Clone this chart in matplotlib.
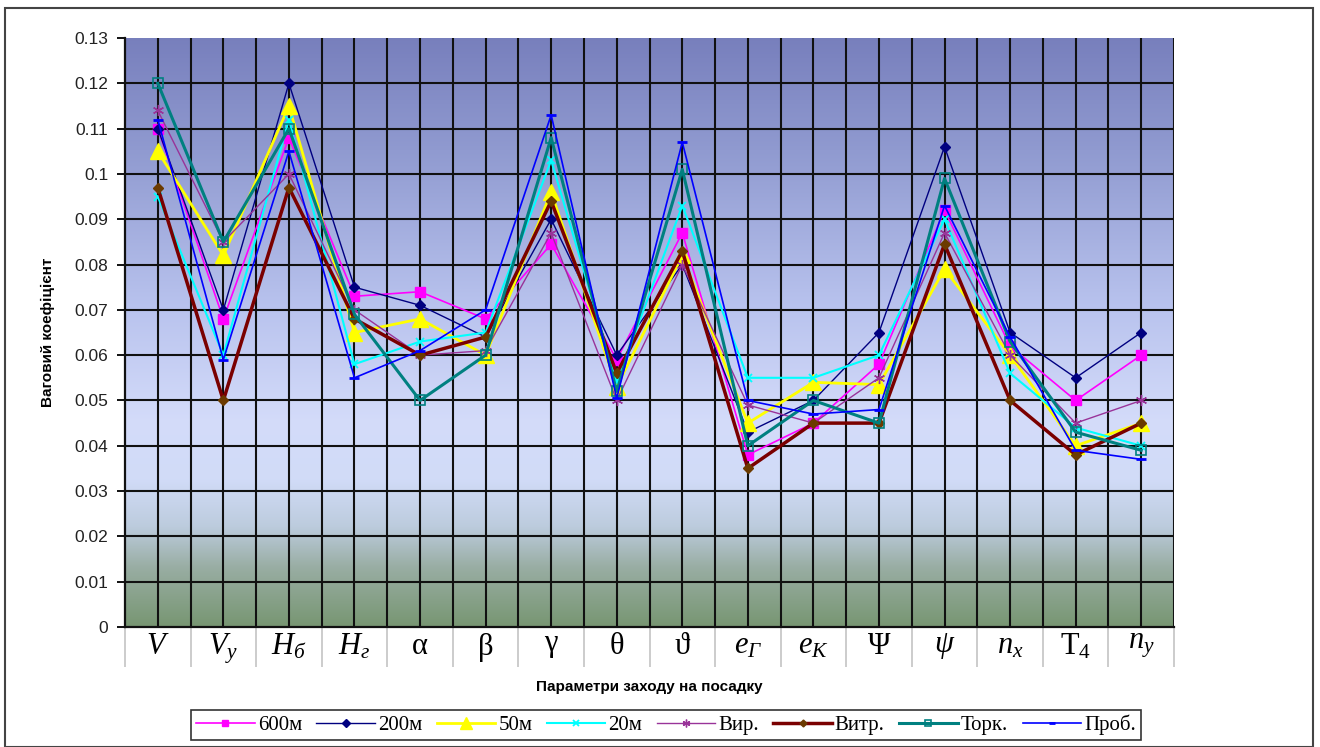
import numpy as np
import matplotlib
matplotlib.use("Agg")
import matplotlib.pyplot as plt
from matplotlib.colors import LinearSegmentedColormap
from matplotlib.patches import Rectangle

plt.rcParams['mathtext.fontset'] = 'custom'
plt.rcParams['mathtext.rm'] = 'Liberation Serif'
plt.rcParams['mathtext.it'] = 'Liberation Serif:italic'
plt.rcParams['mathtext.bf'] = 'Liberation Serif:bold'

# ---------------- data ----------------
categories = [r'$V$', r'$V_y$', r'$H_б$', r'$H_г$', r'$\mathrm{α}$', r'$\mathrm{β}$',
              r'$\mathrm{γ}$', r'$\mathrm{θ}$', r'$\mathrm{ϑ}$', r'$e_Г$', r'$e_К$',
              r'$\mathrm{Ψ}$', r'$ψ$', r'$n_x$', r'$\mathrm{T}_4$', r'$n_y$']

s600 = [0.110, 0.068, 0.108, 0.073, 0.074, 0.068, 0.0845, 0.059, 0.087, 0.038, 0.045, 0.058, 0.092, 0.062, 0.050, 0.060]
s200 = [0.110, 0.070, 0.120, 0.075, 0.071, 0.064, 0.090, 0.060, 0.080, 0.043, 0.050, 0.065, 0.106, 0.065, 0.055, 0.065]
s50 = [0.105, 0.082, 0.115, 0.065, 0.068, 0.060, 0.096, 0.053, 0.082, 0.045, 0.054, 0.0535, 0.079, 0.060, 0.040, 0.045]
s20 = [0.095, 0.060, 0.112, 0.058, 0.063, 0.065, 0.103, 0.054, 0.093, 0.055, 0.055, 0.060, 0.090, 0.056, 0.044, 0.040]
s_vir = [0.114, 0.085, 0.100, 0.070, 0.060, 0.061, 0.087, 0.050, 0.080, 0.049, 0.045, 0.055, 0.087, 0.060, 0.045, 0.050]
s_vytr = [0.097, 0.050, 0.097, 0.068, 0.060, 0.064, 0.094, 0.056, 0.083, 0.035, 0.045, 0.045, 0.0845, 0.050, 0.038, 0.045]
s_tork = [0.120, 0.085, 0.110, 0.069, 0.050, 0.060, 0.108, 0.052, 0.101, 0.040, 0.050, 0.045, 0.099, 0.063, 0.043, 0.039]
s_prob = [0.112, 0.059, 0.105, 0.055, 0.061, 0.070, 0.113, 0.0505, 0.107, 0.050, 0.047, 0.048, 0.093, 0.064, 0.039, 0.037]

series_names = ['600м', '200м', '50м', '20м', 'Вир.', 'Витр.', 'Торк.', 'Проб.']
yticks = [0, 0.01, 0.02, 0.03, 0.04, 0.05, 0.06, 0.07, 0.08, 0.09, 0.10, 0.11, 0.12, 0.13]
ytick_labels = ['0', '0.01', '0.02', '0.03', '0.04', '0.05', '0.06', '0.07', '0.08', '0.09',
                '0.1', '0.11', '0.12', '0.13']

# ---------------- styles ----------------
styles = [
    dict(color='#ff00ff', marker='s', ms=7, lw=1.2, mfc='#ff00ff', mec='#ff00ff'),
    dict(color='#000080', marker='D', ms=5.5, lw=1.0, mfc='#000080', mec='#000080'),
    dict(color='#ffff00', marker='^', ms=12, lw=2.0, mfc='#ffff00', mec='#ffff00'),
    dict(color='#00ffff', marker='x', ms=6, lw=1.5, mfc='#00ffff', mec='#00ffff', mew=1.3),
    dict(color='#993399', marker=(6, 2, 0), ms=8, lw=1.0, mfc='#993399', mec='#993399', mew=1.0),
    dict(color='#7a0000', marker='D', ms=5, lw=2.5, mfc='#6b3a00', mec='#6b3a00'),
    dict(color='#008080', marker='s', ms=7, lw=2.2, mfc='none', mec='#008080', mew=1.2),
    dict(color='#0000ff', marker='_', ms=7, lw=1.2, mfc='#0000ff', mec='#0000ff', mew=2),
]
all_series = [s600, s200, s50, s20, s_vir, s_vytr, s_tork, s_prob]

fig = plt.figure(figsize=(13.2, 7.47), dpi=100)
ax = fig.add_axes([125 / 1320, 1 - 627 / 747, (1174 - 125) / 1320, (627 - 38) / 747])

x = np.arange(len(categories))
ax.set_xlim(-0.5, len(categories) - 0.5)
ax.set_ylim(0, 0.13)

# gradient background
stops = [(0.0, (0.47, 0.59, 0.45)),
         (0.10, (0.60, 0.68, 0.64)),
         (0.17, (0.74, 0.80, 0.87)),
         (0.25, (0.82, 0.86, 0.97)),
         (0.35, (0.83, 0.86, 0.98)),
         (0.55, (0.72, 0.76, 0.93)),
         (0.80, (0.57, 0.61, 0.82)),
         (1.0, (0.47, 0.50, 0.74))]
cmap = LinearSegmentedColormap.from_list('bg', stops)
grad = np.linspace(0, 1, 256).reshape(-1, 1)
ax.imshow(grad, aspect='auto', cmap=cmap, origin='lower', extent=[0, 1, 0, 1],
          transform=ax.transAxes, zorder=0, interpolation='bilinear')

# grid
for xv in np.arange(0, len(categories) - 0.25, 0.5):
    ax.axvline(xv, color='#111111', lw=1.5, zorder=1)
for yv in yticks[1:-1]:
    ax.axhline(yv, color='#111111', lw=1.5, zorder=1)

for vals, st, name in zip(all_series, styles, series_names):
    ax.plot(x, vals, label=name, zorder=3, **st)

# axes styling
for sp in ['top', 'right']:
    ax.spines[sp].set_visible(False)
ax.spines['left'].set_linewidth(1.6)
ax.spines['bottom'].set_linewidth(1.6)
ax.spines['left'].set_color('#111111')
ax.spines['bottom'].set_color('#111111')

ax.set_yticks(yticks)
ax.set_yticklabels(ytick_labels, fontsize=12.5, family='Liberation Sans', color='#222222')
ax.tick_params(axis='y', direction='out', length=6, width=1.4, color='#111111', pad=6)

ax.set_xticks(x)
ax.set_xticklabels(categories, fontsize=22)
ax.tick_params(axis='x', which='major', length=0, pad=3)
ax.set_xticks(np.arange(-0.5, len(categories), 1.0), minor=True)
ax.tick_params(axis='x', which='minor', direction='out', length=29, width=1.4, color='#cccccc')

ax.set_ylabel('Ваговий коефіцієнт', fontsize=11, fontweight='bold', family='Liberation Sans', labelpad=14)
ax.set_xlabel('Параметри заходу на посадку', fontsize=11, fontweight='bold', family='Liberation Sans', labelpad=6)

leg = fig.legend(loc='center', bbox_to_anchor=(666 / 1320, 1 - 725 / 747), ncol=8,
                 prop={'family': 'Liberation Serif', 'size': 15}, frameon=True, fancybox=False,
                 edgecolor='black', handlelength=2.8, handletextpad=0.15, columnspacing=0.7,
                 borderpad=0.25, markerscale=0.7, shadow=False)
leg.get_frame().set_linewidth(1.2)

# outer figure border
fig.patches.append(Rectangle((5 / 1320, 0.0), (1313 - 5) / 1320, 1 - 8 / 747,
                             transform=fig.transFigure, fill=False, edgecolor='#444444', lw=1.5))

fig.savefig('out.png', dpi=100)
